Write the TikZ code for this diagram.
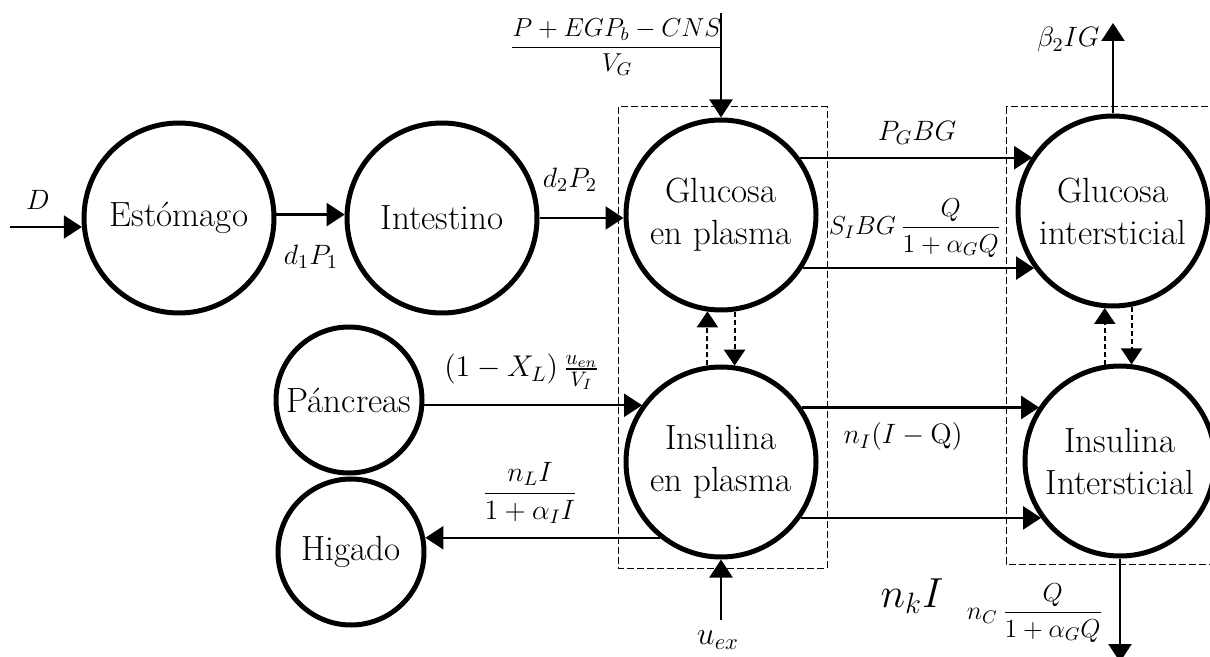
\RequirePackage{fix-cm}
\documentclass[tikz,border=0pt]{standalone}
\usepackage{amsmath}
\usetikzlibrary{arrows.meta}
\begin{document}
\begin{tikzpicture}[x=0.5pt,y=-0.5pt,
  comp/.style={circle,draw,line width=2.5pt,inner sep=0pt,minimum size=95pt,align=center,font=\fontsize{17.5}{21}\selectfont},
  smallcomp/.style={comp,minimum size=73pt},
  flow/.style={line width=1.1pt,-{Triangle[length=9pt,width=11.5pt]}},
  exch/.style={line width=1pt,dash pattern=on 2.5pt off 1.5pt,-{Triangle[length=8pt,width=10.5pt]}},
  boxline/.style={draw,line width=0.5pt,dash pattern=on 3.5pt off 1.5pt},
  lbl/.style={font=\fontsize{14}{16}\selectfont,inner sep=1pt}]
\useasboundingbox (0,0) rectangle (1210,657);

% dashed compartments
\draw[boxline] (618,107) rectangle (827,568);
\draw[boxline] (1006,107) rectangle (1220,564);

% compartments
\node[comp] (est) at (179,218) {Estómago};
\node[comp] (int) at (442,218) {Intestino};
\node[comp] (gp) at (721,215) {Glucosa\\en plasma};
\node[comp] (gi) at (1113,211) {Glucosa\\intersticial};
\node[smallcomp] (pan) at (349,400) {Páncreas};
\node[smallcomp] (hig) at (351,552) {Higado};
\node[comp] (ip) at (721,462) {Insulina\\en plasma};
\node[comp] (ii) at (1120,461) {Insulina\\Intersticial};

% free ends
\coordinate (Din) at (10,227);
\coordinate (topin) at (721,13);
\coordinate (betaout) at (1113,23);
\coordinate (uin) at (721,620);
\coordinate (ncout) at (1120,662);

% flows
\draw[flow] (Din) -- (Din -| est.185.3);
\draw[flow] (est.2.4) -- (est.2.4 -| int.177.6);
\draw[flow] (int.east) -- (int.east -| gp.181.8);
\draw[flow] (topin) -- (gp.north);
\draw[flow] (gp.36.7) -- (gp.36.7 -| gi.146.2);
\draw[flow] (gp.-33.8) -- (gp.-33.8 -| gi.216.7);
\draw[flow] (gi.north) -- (betaout);
\draw[flow] (pan.-4.6) -- (pan.-4.6 -| ip.144.7);
\draw[flow] (ip.34.6) -- (ip.34.6 -| ii.146.2);
\draw[flow] (ip.-35.3) -- (ip.-35.3 -| ii.216);
\draw[flow] (ip.231.6) -- (ip.231.6 -| hig.10.7);
\draw[flow] (uin) -- (ip.south);
\draw[flow] (ii.south) -- (ncout);

% exchanges
\draw[exch] (ip.98.9) -- (ip.98.9 |- gp.261.1);
\draw[exch] (gp.278.3) -- (gp.278.3 |- ip.81.7);
\draw[exch] (ii.99.5) -- (ii.99.5 |- gi.264.7);
\draw[exch] (gi.281.3) -- (gi.281.3 |- ii.82.9);

% labels
\node[lbl] (lD) at (38,200) {$D$};
\node[lbl] (ld1) at (311,257) {$d_1P_1$};
\node[lbl] (ld2) at (570,180) {$d_2P_2$};
\node[lbl,font=\fontsize{13}{15}\selectfont] (ltop) at (617,47) {$\dfrac{P+EGP_b-CNS}{V_G}$};
\node[lbl] (lpg) at (917,133) {$P_GBG$};
\node[lbl,font=\fontsize{13}{15}\selectfont] (lsi) at (915,228) {$S_IBG\,\dfrac{Q}{1+\alpha_GQ}$};
\node[lbl,anchor=east] (lbeta) at (1102,40) {$\beta_2IG$};
\node[lbl,font=\fontsize{15}{17}\selectfont] (lpan) at (522,372) {$(1-X_L)\,\frac{u_{en}}{V_I}$};
\node[lbl] (lhig) at (530,493) {$\dfrac{n_LI}{1+\alpha_II}$};
\node[lbl] (lni) at (903,437) {$n_I(I-\mathrm{Q})$};
\node[lbl,font=\fontsize{21}{24}\selectfont] (lnk) at (912,596) {$n_kI$};
\node[lbl,font=\fontsize{16}{18}\selectfont] (lu) at (718,640) {$u_{ex}$};
\node[lbl,font=\fontsize{13}{15}\selectfont] (lnc) at (1035,613) {$n_C\,\dfrac{Q}{1+\alpha_GQ}$};
\end{tikzpicture}
\end{document}
